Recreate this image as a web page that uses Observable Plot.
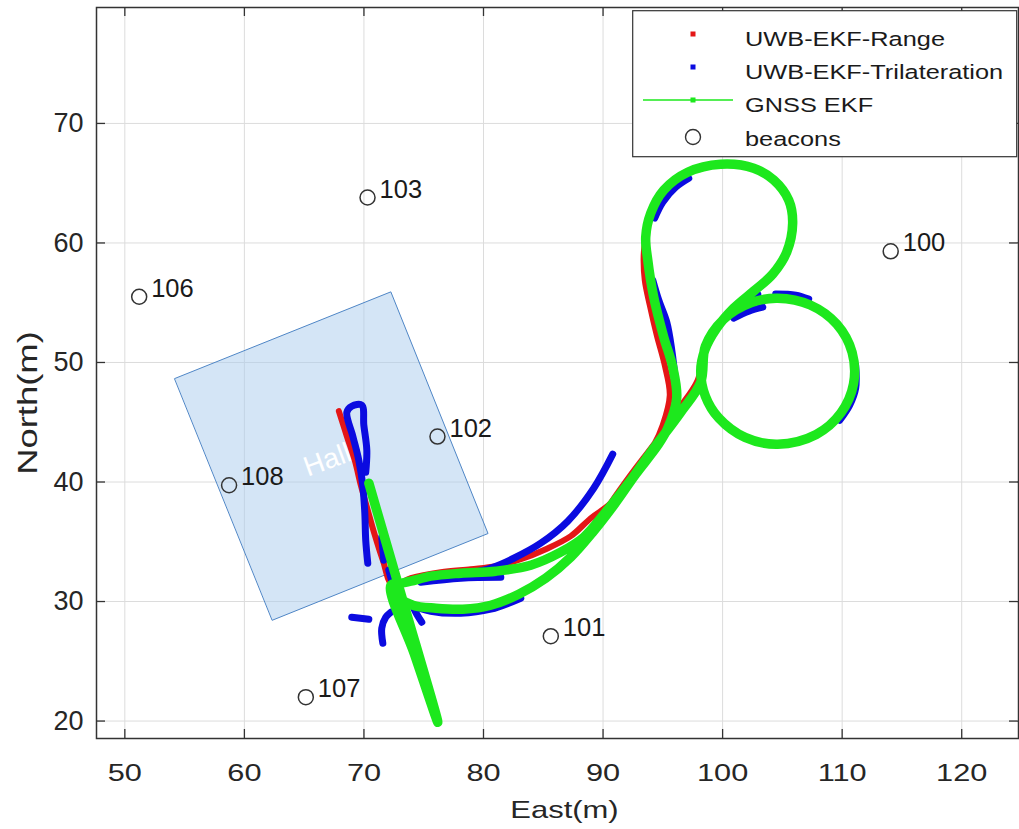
<!DOCTYPE html>
<html><head><meta charset="utf-8">
<script src="https://cdn.jsdelivr.net/npm/d3@7"></script>
<script src="https://cdn.jsdelivr.net/npm/@observablehq/plot@0.6"></script>
<style>
html,body{margin:0;padding:0;background:#fff;}
#wrap{position:relative;width:1019px;height:829px;overflow:hidden;}
#overlay{position:absolute;left:0;top:0;pointer-events:none;}
</style></head><body><div id="wrap"></div>
<script>
// ---- data ----
const xTicks = [50, 60, 70, 80, 90, 100, 110, 120];
const yTicks = [20, 30, 40, 50, 60, 70];
const xTitle = "East(m)";
const yTitle = "North(m)";
const seriesNames = ["UWB-EKF-Range", "UWB-EKF-Trilateration", "GNSS EKF", "beacons"];
const seriesColors = ["#e41616", "#0b0be0", "#1de81d", "#333333"];

const beaconIds   = ["100", "101", "102", "103", "106", "107", "108"];
const beaconEast  = [114.06, 85.63, 76.15, 70.30, 51.20, 65.14, 58.72];
const beaconNorth = [59.30, 27.10, 43.80, 63.80, 55.50, 22.00, 39.73];

const hallCorners = [[54.18, 48.66], [72.25, 55.91], [80.38, 35.69], [62.35, 28.44]];
const hallLabel = [{east: 65.30, north: 40.45, text: "Hall"}];

const gnssTrack = [[70.41,39.90],[73.25,30.11],[76.18,19.90],[74.21,25.63],[72.25,31.36],[73.08,31.53],[73.92,31.70],[75.59,32.12],[78.10,32.37],[81.03,32.54],[83.95,33.04],[86.46,34.13],[88.39,35.38],[90.48,37.81],[92.32,40.15],[93.99,42.49],[96.50,45.84],[98.17,48.35],[98.56,51.36],[100.06,53.59],[102.41,55.01],[104.61,55.38],[107.33,54.81],[109.55,53.20],[110.83,50.85],[110.95,48.21],[109.89,45.77],[107.83,43.98],[104.61,43.16],[101.88,43.73],[99.68,45.35],[98.56,47.18],[98.17,49.27],[98.51,51.03],[99.51,52.87],[100.93,54.54],[102.60,55.97],[104.19,57.39],[105.36,59.23],[105.86,61.66],[105.53,63.58],[104.28,65.26],[102.60,66.26],[99.84,66.59],[97.08,65.92],[95.08,64.42],[93.99,62.49],[93.57,60.49],[93.74,58.56],[94.24,55.46],[95.08,52.12],[95.83,49.61],[96.16,47.01],[95.41,44.50],[94.58,43.08],[92.73,40.65],[90.90,38.06],[89.14,35.80],[87.30,33.71],[85.21,31.95],[82.95,30.61],[80.61,29.69],[78.27,29.36],[76.01,29.44],[74.09,29.69],[72.91,30.36],[72.41,31.10]];

const rangeTrack = [[67.90,45.93],[68.57,43.83],[69.23,41.82],[69.74,39.73],[70.32,37.64],[70.91,35.55],[71.58,33.46],[72.41,31.36],[73.92,31.95],[76.43,32.45],[78.94,32.70],[81.03,32.95],[83.12,33.54],[85.21,34.38],[87.30,35.47],[88.97,36.97],[90.64,38.23],[92.48,40.82],[94.32,43.25],[96.25,46.01],[97.92,48.52],[98.56,51.36],[100.06,53.59],[102.41,55.01],[104.61,55.38],[107.33,54.81],[109.55,53.20],[110.83,50.85],[110.95,48.21],[109.89,45.77],[107.83,43.98],[104.61,43.16],[101.88,43.73],[99.68,45.35],[98.56,47.18],[98.17,49.27],[98.51,51.03],[99.51,52.87],[100.93,54.54],[102.60,55.97],[104.19,57.39],[105.36,59.23],[105.86,61.66],[105.53,63.58],[104.28,65.26],[102.60,66.26],[99.84,66.59],[97.08,65.92],[95.08,64.42],[93.99,62.49],[93.57,60.49],[93.40,58.98],[93.49,56.89],[93.91,54.80],[94.49,52.29],[95.16,49.77],[95.58,47.26],[94.99,44.75],[94.32,43.25],[92.48,40.82],[90.64,38.23],[89.14,35.80],[87.30,33.71],[85.21,31.95],[82.95,30.61],[80.61,29.69],[78.27,29.36],[76.01,29.44],[74.09,29.69],[72.91,30.36]];

const trilaterationSegments = [
  [[70.32,33.21],[70.15,35.13],[70.07,37.47],[69.90,39.73],[69.57,41.82],[69.07,43.83],[68.57,45.84],[68.98,46.34],[69.82,46.43],[69.99,44.75],[70.24,42.66],[70.15,40.82]],
  [[71.49,35.38],[71.66,33.46]],
  [[68.98,28.69],[70.41,28.52]],
  [[71.58,26.51],[71.49,27.77],[71.83,28.69],[72.25,29.11]],
  [[74.00,29.78],[74.42,28.94],[74.84,28.27]],
  [[72.08,32.62],[72.58,30.78]],
  [[74.75,31.62],[78.10,31.95],[81.45,32.03]],
  [[78.94,32.37],[80.61,32.79],[82.53,33.62],[84.79,34.88],[87.05,36.72],[89.22,39.48],[90.81,42.33]],
  [[73.50,29.86],[75.59,29.19],[78.10,29.02],[80.61,29.36],[83.12,30.28]],
  [[94.16,56.89],[94.66,55.21],[95.33,53.37],[95.75,51.03],[96.08,48.27]],
  [[94.32,62.08],[94.99,63.41],[96.08,64.67],[97.17,65.42]],
  [[99.59,53.04],[101.27,54.63],[102.94,55.72]],
  [[100.93,53.71],[102.19,54.29],[103.36,54.63]],
  [[104.44,55.72],[106.12,55.63],[107.20,55.30]],
  [[111.13,49.77],[111.13,47.85],[110.63,46.43],[109.80,45.17]]
];

// ---- derived tables ----
const toRows = (arr, seg = 0) => arr.map(([e, n]) => ({e, n, seg}));
const gnssRows = toRows(gnssTrack);
const rangeRows = toRows(rangeTrack);
const trilatRows = trilaterationSegments.flatMap((s, i) => toRows(s, i));
const hallRows = toRows(hallCorners);
const beacons = beaconIds.map((id, i) => ({id, e: beaconEast[i], n: beaconNorth[i]}));

const W = 1019, H = 829, mL = 96, mR = 1, mT = 7, mB = 91;
const fw = W - mL - mR, fh = H - mT - mB;
const ink = "#262626";
const lineStyle = {strokeLinecap: "round", strokeLinejoin: "round", curve: "catmull-rom"};

const chart = Plot.plot({
  width: W, height: H,
  marginLeft: mL, marginRight: mR, marginTop: mT, marginBottom: mB,
  x: {domain: [47.63, 124.75]},
  y: {domain: [18.54, 79.7]},
  style: {fontFamily: "'Liberation Sans', Arial, sans-serif", background: "white", color: ink, overflow: "visible"},
  marks: [
    Plot.gridX(xTicks, {stroke: "#dcdcdc", strokeOpacity: 1, strokeWidth: 1}),
    Plot.gridY(yTicks, {stroke: "#dcdcdc", strokeOpacity: 1, strokeWidth: 1}),
    Plot.line(hallRows, {x: "e", y: "n", curve: "linear-closed", fill: "#a9cbee", fillOpacity: 0.5, stroke: "#4f86c6", strokeWidth: 1}),
    Plot.text(hallLabel, {x: "east", y: "north", text: "text", rotate: -20, textAnchor: "start", lineAnchor: "bottom", fill: "white", fontSize: 28}),
    Plot.line(rangeRows, {x: "e", y: "n", stroke: seriesColors[0], strokeWidth: 6, ...lineStyle}),
    Plot.line(trilatRows, {x: "e", y: "n", z: "seg", stroke: seriesColors[1], strokeWidth: 7, ...lineStyle}),
    Plot.line(gnssRows, {x: "e", y: "n", stroke: seriesColors[2], strokeWidth: 9.5, ...lineStyle}),
    Plot.dot(beacons, {x: "e", y: "n", r: 7.5, stroke: "#333", strokeWidth: 1.5, fill: "none"}),
    Plot.text(beacons, {x: "e", y: "n", text: "id", dx: 12, textAnchor: "start", lineAnchor: "bottom", fontSize: 25.5, fill: "#1a1a1a"}),
    Plot.frame({stroke: "#333", strokeWidth: 1.5}),
    Plot.ruleX(xTicks, {insetTop: fh - 9, stroke: "#333", strokeWidth: 1.3}),
    Plot.ruleX(xTicks, {insetBottom: fh - 9, stroke: "#333", strokeWidth: 1.3}),
    Plot.ruleY(yTicks, {insetRight: fw - 9, stroke: "#333", strokeWidth: 1.3}),
    Plot.ruleY(yTicks, {insetLeft: fw - 9, stroke: "#333", strokeWidth: 1.3}),
    Plot.axisX(xTicks, {anchor: "bottom", tickSize: 0, tickPadding: 25, fontSize: 24, label: null, fill: ink}),
    Plot.axisY(yTicks, {anchor: "left", tickSize: 0, tickPadding: 13, fontSize: 27, label: null, fill: ink}),
    Plot.text([xTitle], {frameAnchor: "bottom", textAnchor: "middle", dy: 79, dx: 7, lineAnchor: "bottom", fontSize: 24, fill: ink}),
    Plot.text([yTitle], {frameAnchor: "left", textAnchor: "middle", dx: -60, dy: 30, rotate: -90, lineAnchor: "bottom", fontSize: 28, fill: ink})
  ]
});
document.getElementById("wrap").appendChild(chart);

// horizontal stretch of a text about its anchor (the figure's lettering is wide)
function stretch(el, s) {
  const b = el.getBBox();
  const anchor = getComputedStyle(el).textAnchor;
  const px = anchor === "middle" ? b.x + b.width / 2 : anchor === "end" ? b.x + b.width : b.x;
  const t = el.getAttribute("transform") || "";
  el.setAttribute("transform", `${t} translate(${px},0) scale(${s},1) translate(${-px},0)`);
}
chart.querySelectorAll('g[aria-label="x-axis tick label"] text').forEach(t => stretch(t, 1.28));
chart.querySelectorAll("text").forEach(t => {
  if (t.textContent === xTitle) stretch(t, 1.29);
  if (t.textContent === yTitle) stretch(t, 1.3);
});

// ---- legend (inside the axes, top right) ----
const ov = d3.select("#wrap").append("svg").attr("id", "overlay").attr("width", W).attr("height", H)
  .style("font-family", "'Liberation Sans', Arial, sans-serif");
const lg = ov.append("g");
lg.append("rect").attr("x", 632.7).attr("y", 10.7).attr("width", 384).attr("height", 146)
  .attr("fill", "white").attr("stroke", "#333").attr("stroke-width", 1.2);
const rowBase = [46, 79, 112, 146];
const rowMark = [34, 67, 100, 137];
const mx = 693;
lg.append("rect").attr("x", mx - 2.5).attr("y", rowMark[0] - 2.5).attr("width", 5).attr("height", 5).attr("fill", seriesColors[0]);
lg.append("rect").attr("x", mx - 2.5).attr("y", rowMark[1] - 2.5).attr("width", 5).attr("height", 5).attr("fill", seriesColors[1]);
lg.append("line").attr("x1", 643).attr("x2", 733).attr("y1", rowMark[2]).attr("y2", rowMark[2]).attr("stroke", seriesColors[2]).attr("stroke-width", 1.6);
lg.append("rect").attr("x", mx - 2.5).attr("y", rowMark[2] - 2.5).attr("width", 5).attr("height", 5).attr("fill", seriesColors[2]);
lg.append("circle").attr("cx", mx).attr("cy", rowMark[3]).attr("r", 7.5).attr("fill", "none").attr("stroke", "#333").attr("stroke-width", 1.4);
seriesNames.forEach((name, i) => {
  lg.append("text").attr("transform", `translate(745,${rowBase[i]}) scale(1.3,1)`)
    .attr("font-size", 19.5).attr("fill", "#1a1a1a").text(name);
});
</script></body></html>
